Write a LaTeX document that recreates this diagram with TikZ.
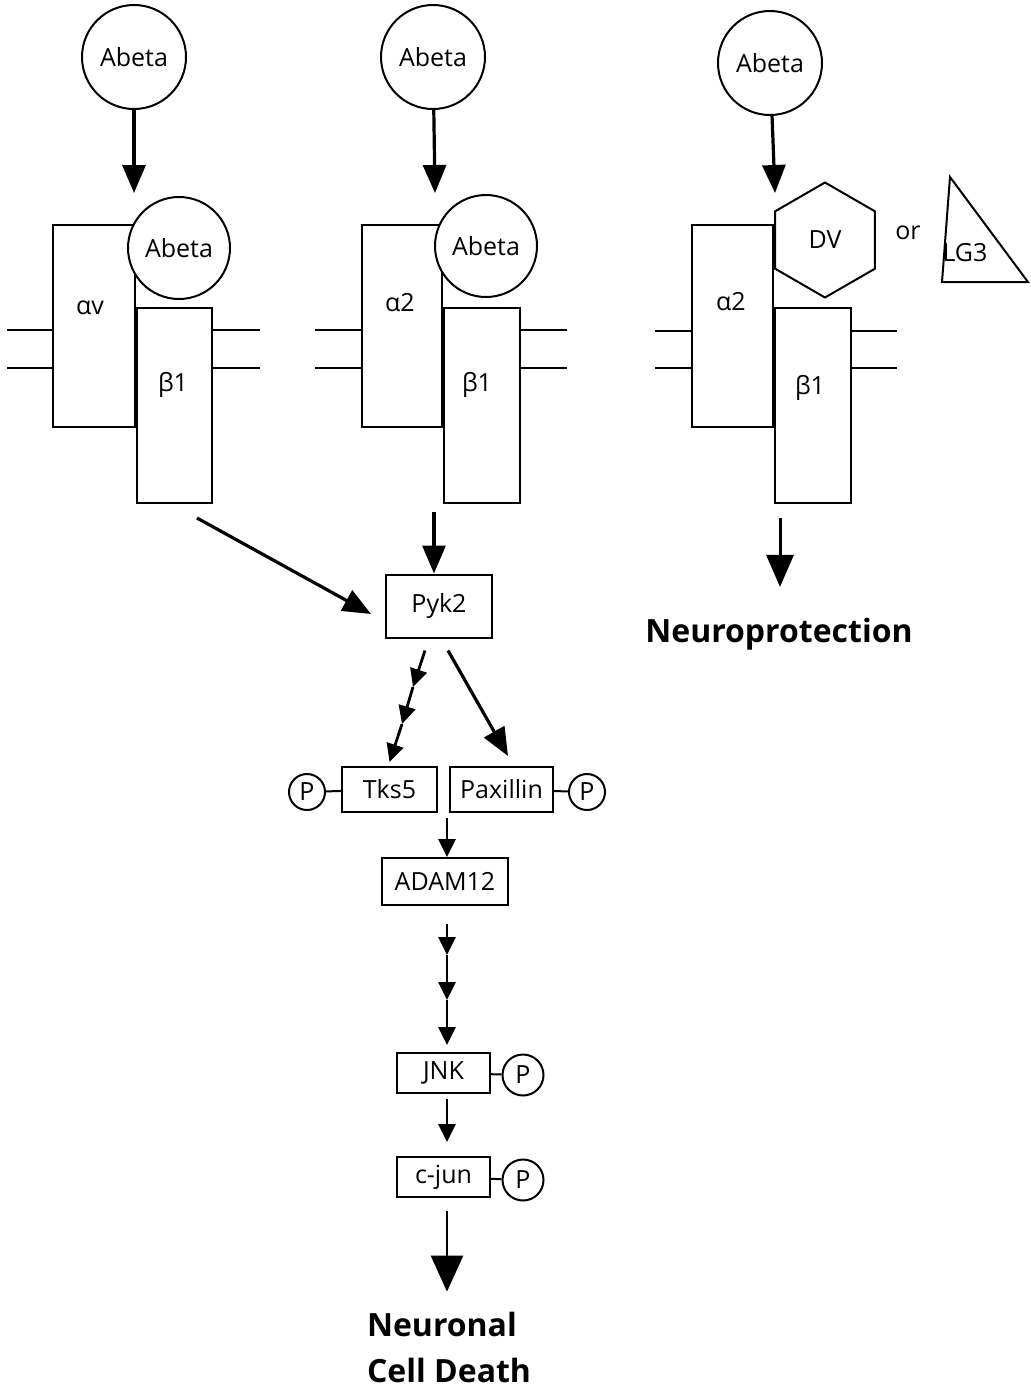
\documentclass[tikz,border=0pt]{standalone}
\usepackage{fontspec}
\setmainfont{Open Sans}
\usetikzlibrary{positioning, arrows.meta, shapes.geometric}

\tikzset{
  ligand/.style={circle, draw, line width=1pt, fill=white, minimum size=52pt, inner sep=0pt},
  subunit/.style={draw, line width=1pt, inner sep=0pt},
  protein/.style={draw, line width=1pt, inner sep=0pt, minimum height=22.5pt},
  phos/.style={circle, draw, line width=1pt, minimum size=18pt, inner sep=0pt},
  signal/.style={-{Triangle[length=14pt, width=11.5pt]}, line width=1.6pt},
  relay/.style={-{Triangle[length=9pt, width=8.5pt]}, line width=1.4pt},
  membrane/.style={line width=1pt},
  outcome/.style={font=\fontsize{16}{23}\selectfont\bfseries},
}

\begin{document}
\begin{tikzpicture}[x=0.5pt, y=-0.5pt, font=\fontsize{12.5}{15}\selectfont]
  \useasboundingbox (0,0) rectangle (1030,1388);

  % alpha-v / beta1 receptor
  \node[ligand] (abA) at (134,57) {Abeta};
  \node[subunit, minimum width=41pt, minimum height=101pt] (avA) at (94,326) {};
  \node[subunit, minimum width=37.5pt, minimum height=97.5pt] (bA) at (174.5,405.5) {};
  \node[ligand, minimum size=51pt] (abAb) at (179,248) {Abeta};
  \node (lavA) at (90,308) {αv};
  \node (lbA) at (173,385) {β1};
  \foreach \y in {330,368}
    \draw[membrane] (7,\y) -- (53,\y) (212,\y) -- (260,\y);
  \coordinate (inA) at (134,193);
  \draw[signal] (abA) -- (inA);

  % alpha2 / beta1 receptor
  \node[ligand] (abB) at (433,57) {Abeta};
  \node[subunit, minimum width=40pt, minimum height=101pt] (a2B) at (402,326) {};
  \node[subunit, minimum width=38pt, minimum height=97.5pt] (bB) at (482,405.5) {};
  \node[ligand, minimum size=51pt] (abBb) at (486,246) {Abeta};
  \node (la2B) at (400,303) {α2};
  \node (lbB) at (477,385) {β1};
  \foreach \y in {330,368}
    \draw[membrane] (315,\y) -- (362,\y) (520,\y) -- (567,\y);
  \coordinate (inB) at (435,193);
  \draw[signal] (abB) -- (inB);

  % alpha2 / beta1 with DV or LG3
  \node[ligand] (abC) at (770,63) {Abeta};
  \node[subunit, minimum width=40.5pt, minimum height=101pt] (a2C) at (732.5,326) {};
  \node[subunit, minimum width=38pt, minimum height=97.5pt] (bC) at (813,405.5) {};
  \node[regular polygon, regular polygon sides=6, shape border rotate=30, draw,
        line width=1pt, fill=white, minimum size=57.5pt, inner sep=0pt] (dv) at (825,240) {DV};
  \node (la2C) at (731,302) {α2};
  \node (lbC) at (810,388) {β1};
  \foreach \y in {331,368}
    \draw[membrane] (655,\y) -- (692,\y) (851,\y) -- (897,\y);
  \coordinate (inC) at (775,193);
  \draw[signal] (abC) -- (inC);
  \node (or) at (908,233) {or};
  \draw[line width=1pt] (950,177) -- (942,282) -- (1028,282) -- cycle;
  \node (lg3) at (965,253) {LG3};

  % Neuroprotection
  \coordinate (outC) at (780,518);
  \node[outcome] (nprot) at (779,634) {Neuroprotection};
  \draw[-{Triangle[length=16pt, width=13.5pt]}, line width=1.5pt, shorten >=12pt] (outC) -- (outC |- nprot.north);

  % Pyk2 cascade
  \node[protein, minimum width=53pt, minimum height=31.5pt] (pyk) at (439,606) {Pyk2};
  \coordinate (outA) at (197,518);
  \coordinate (outB) at (434,512);
  \draw[signal] (outA) -- ([xshift=-7pt, yshift=-4pt]pyk.west);
  \draw[signal] (outB) -- (outB |- pyk.north);

  \node[protein, minimum width=47.5pt] (tks) at (389.5,789.5) {Tks5};
  \node[protein, minimum width=51.5pt] (pax) at (501.5,789.5) {Paxillin};
  \node[phos] (ptks) at (307,792) {P};
  \node[phos] (ppax) at (587,792) {P};
  \draw[line width=1pt] (ptks) -- (tks);
  \draw[line width=1pt] (pax) -- (ppax);

  \coordinate (kA) at (413,687);
  \coordinate (kB) at (402,724);
  \draw[relay] ([xshift=-7pt, yshift=-6pt]pyk.south) -- (kA);
  \draw[relay] (kA) -- (kB);
  \draw[relay] (kB) -- ([yshift=2pt]tks.north);
  \draw[signal] ([xshift=4.5pt, yshift=-6pt]pyk.south) -- ([xshift=3.25pt, yshift=5pt]pax.north);

  \node[protein, minimum width=63pt, minimum height=23.5pt] (adam) at (445,881.5) {ADAM12};
  \coordinate (merge) at (447,818);
  \draw[relay] (merge) -- (merge |- adam.north);

  \node[protein, minimum width=46.5pt, minimum height=20pt] (jnk) at (443.5,1073) {JNK};
  \node[phos, minimum size=20.5pt] (pjnk) at (523,1075) {P};
  \draw[line width=1pt] (jnk) -- (pjnk);
  \coordinate (jB) at (447,955);
  \coordinate (jC) at (447,1000);
  \coordinate (jD) at (447,1045);
  \draw[relay, shorten <=9pt] (jB |- adam.south) -- (jB);
  \draw[relay] (jB) -- (jC);
  \draw[relay] (jC) -- (jD);

  \node[protein, minimum width=46.5pt, minimum height=20pt] (cjun) at (443.5,1177) {c-jun};
  \node[phos, minimum size=20.5pt] (pcjun) at (523,1180) {P};
  \draw[line width=1pt] (cjun) -- (pcjun);
  \draw[relay, shorten <=2.5pt, shorten >=7pt] (jD |- jnk.south) -- (jD |- cjun.north);

  \node[outcome, align=left, anchor=west] (death) at (360,1347) {Neuronal\\Cell Death};
  \draw[-{Triangle[length=18pt, width=16pt]}, line width=1.2pt, shorten <=6.5pt, shorten >=6.5pt]
    (jD |- cjun.south) -- (jD |- death.north);
\end{tikzpicture}
\end{document}
